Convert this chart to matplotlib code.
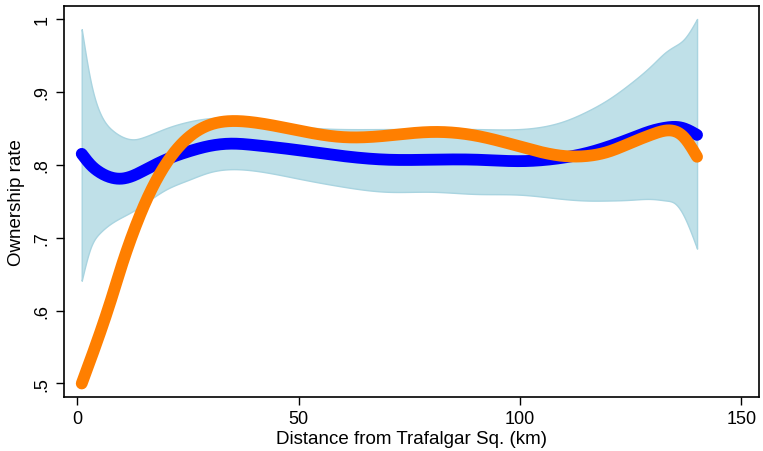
import numpy as np
import matplotlib
matplotlib.use("Agg")
import matplotlib.pyplot as plt

# Data
x_pts = [1, 3, 5, 8, 10, 13, 15, 20, 25, 30, 35, 40, 50, 60, 70, 80, 90, 100, 110, 115, 120, 125, 130, 133, 135, 137, 140]
blue = [0.815, 0.800, 0.790, 0.782, 0.781, 0.786, 0.792, 0.807, 0.818, 0.826, 0.829, 0.827, 0.820, 0.812, 0.807, 0.807, 0.807, 0.805, 0.810, 0.816, 0.825, 0.836, 0.847, 0.851, 0.852, 0.850, 0.841]
orange = [0.500, 0.533, 0.567, 0.622, 0.661, 0.713, 0.743, 0.801, 0.837, 0.855, 0.860, 0.858, 0.847, 0.838, 0.840, 0.845, 0.840, 0.825, 0.812, 0.812, 0.818, 0.830, 0.842, 0.847, 0.846, 0.838, 0.811]
band_hi = [0.986, 0.915, 0.873, 0.847, 0.839, 0.835, 0.838, 0.850, 0.859, 0.864, 0.865, 0.863, 0.853, 0.849, 0.849, 0.849, 0.849, 0.849, 0.860, 0.873, 0.890, 0.912, 0.938, 0.955, 0.963, 0.972, 1.000]
band_lo = [0.641, 0.686, 0.706, 0.721, 0.728, 0.738, 0.746, 0.766, 0.779, 0.790, 0.794, 0.792, 0.781, 0.770, 0.763, 0.763, 0.760, 0.759, 0.753, 0.751, 0.751, 0.752, 0.753, 0.751, 0.747, 0.730, 0.685]

x_ticks = [0, 50, 100, 150]
y_ticks = [0.5, 0.6, 0.7, 0.8, 0.9, 1.0]
y_labels = [".5", ".6", ".7", ".8", ".9", "1"]

plt.rcParams['font.family'] = ['Liberation Sans', 'DejaVu Sans']

fig = plt.figure(figsize=(7.63, 4.52), dpi=100)
ax = fig.add_axes([0.0839, 0.1195, 0.9109, 0.865])

xs = np.linspace(x_pts[0], x_pts[-1], 800)

def smooth(y):
    # natural cubic spline through the read points
    xp = np.array(x_pts, float); yp = np.array(y, float)
    n = len(xp)
    h = np.diff(xp)
    A = np.zeros((n, n)); r = np.zeros(n)
    A[0, 0] = 1; A[-1, -1] = 1
    for i in range(1, n - 1):
        A[i, i-1] = h[i-1]; A[i, i] = 2*(h[i-1] + h[i]); A[i, i+1] = h[i]
        r[i] = 6*((yp[i+1]-yp[i])/h[i] - (yp[i]-yp[i-1])/h[i-1])
    M = np.linalg.solve(A, r)
    idx = np.clip(np.searchsorted(xp, xs) - 1, 0, n - 2)
    x0 = xp[idx]; x1 = xp[idx+1]; hh = h[idx]
    a = (x1 - xs); b = (xs - x0)
    return (M[idx]*a**3/(6*hh) + M[idx+1]*b**3/(6*hh)
            + (yp[idx]/hh - M[idx]*hh/6)*a + (yp[idx+1]/hh - M[idx+1]*hh/6)*b)

ax.fill_between(xs, smooth(band_lo), smooth(band_hi), facecolor='#bfe0e8',
                edgecolor='#a9d4e0', linewidth=1.0, zorder=1)
ax.plot(xs, smooth(blue), color='#0000ff', linewidth=8.5, solid_capstyle='round', zorder=2)
ax.plot(xs, smooth(orange), color='#ff7f00', linewidth=8.5, solid_capstyle='round', zorder=3)

ax.set_xlim(-3, 154)
ax.set_ylim(0.4815, 1.0178)
ax.set_xticks(x_ticks)
ax.set_xticklabels([str(v) for v in x_ticks])
ax.set_yticks(y_ticks)
ax.set_yticklabels(y_labels, rotation=90, va='center')
ax.tick_params(direction='out', length=6, width=1, labelsize=13, colors='black')
ax.tick_params(axis='y', pad=4)
for s in ax.spines.values():
    s.set_linewidth(1.2)
    s.set_color('black')
ax.set_xlabel('Distance from Trafalgar Sq. (km)', fontsize=13.5, labelpad=2)
ax.set_ylabel('Ownership rate', fontsize=13.5, labelpad=6)

fig.savefig('out.png', dpi=100)
